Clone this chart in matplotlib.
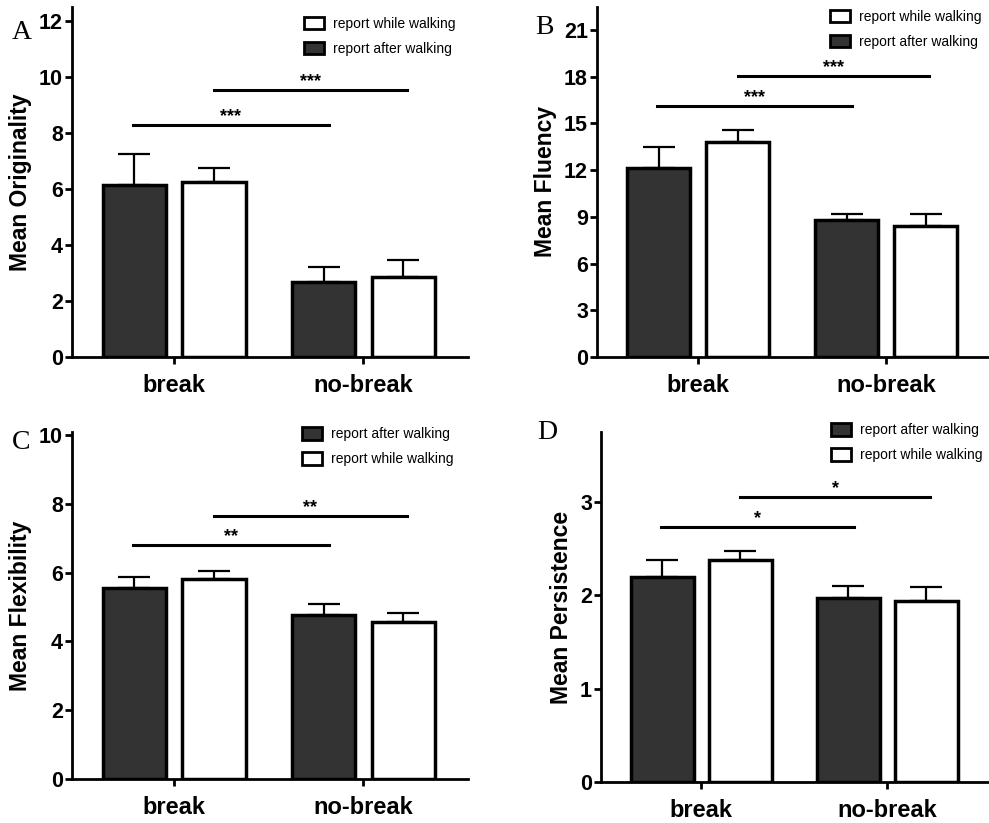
import matplotlib.pyplot as plt
from matplotlib.patches import Patch
import numpy as np

# === DATA ===
groups = ["break", "no-break"]

orig_after = [6.13, 2.67]
orig_after_err = [1.11, 0.54]
orig_while = [6.23, 2.87]
orig_while_err = [0.52, 0.58]

flu_after = [12.14, 8.78]
flu_after_err = [1.35, 0.41]
flu_while = [13.81, 8.44]
flu_while_err = [0.79, 0.75]

flex_after = [5.56, 4.78]
flex_after_err = [0.31, 0.32]
flex_while = [5.82, 4.57]
flex_while_err = [0.23, 0.26]

pers_after = [2.20, 1.97]
pers_after_err = [0.175, 0.13]
pers_while = [2.38, 1.94]
pers_while_err = [0.095, 0.15]

# significance bars: (height, stars)
sig_A = [(8.27, "***"), (9.54, "***")]
sig_B = [(16.1, "***"), (18.03, "***")]
sig_C = [(6.80, "**"), (7.65, "**")]
sig_D = [(2.73, "*"), (3.05, "*")]

DARK = "#333333"
plt.rcParams['font.family'] = ['Liberation Sans', 'DejaVu Sans']

fig = plt.figure(figsize=(9.89, 8.23), dpi=100)


def panel(rect, letter, letter_xy, after, after_err, while_, while_err,
          ylabel, ylim, yticks, sig, while_first, leg_anchor):
    ax = fig.add_axes(rect)
    x = np.arange(len(groups))
    w, off = 0.335, 0.21
    # upper-only error bars
    ax.errorbar(x - off, after, yerr=[np.zeros(2), after_err], fmt="none",
                ecolor="black", elinewidth=1.6, capsize=11.5, capthick=1.6, zorder=1)
    ax.errorbar(x + off, while_, yerr=[np.zeros(2), while_err], fmt="none",
                ecolor="black", elinewidth=1.6, capsize=11.5, capthick=1.6, zorder=1)
    ax.bar(x - off, after, w, color=DARK, edgecolor="black", linewidth=2.5, zorder=2)
    ax.bar(x + off, while_, w, color="white", edgecolor="black", linewidth=2.5, zorder=2)

    # significance lines
    (h1, s1), (h2, s2) = sig
    ax.plot([-0.22, 0.82], [h1, h1], color="black", lw=2.2)
    ax.plot([0.21, 1.23], [h2, h2], color="black", lw=2.2)
    ax.text(0.30, h1, s1, ha="center", va="bottom", fontsize=13, fontweight="bold")
    ax.text(0.72, h2, s2, ha="center", va="bottom", fontsize=13, fontweight="bold")

    ax.set_xlim(-0.54, 1.55)
    ax.set_ylim(*ylim)
    ax.set_yticks(yticks)
    ax.set_xticks(x)
    ax.set_xticklabels(groups, fontsize=17, fontweight="bold")
    ax.tick_params(axis="x", length=5, width=2, pad=7)
    ax.tick_params(axis="y", length=5, width=2, pad=1.5, labelsize=15.5)
    for lab in ax.get_yticklabels():
        lab.set_fontweight("bold")
    ax.set_ylabel(ylabel, fontsize=16.5, fontweight="bold", labelpad=5)
    for s in ["top", "right"]:
        ax.spines[s].set_visible(False)
    for s in ["left", "bottom"]:
        ax.spines[s].set_linewidth(2)

    h_after = Patch(facecolor=DARK, edgecolor="black", linewidth=2, label="report after walking")
    h_while = Patch(facecolor="white", edgecolor="black", linewidth=2, label="report while walking")
    handles = [h_while, h_after] if while_first else [h_after, h_while]
    ax.legend(handles=handles, loc="upper left", bbox_to_anchor=leg_anchor,
              frameon=False, fontsize=10, handlelength=1.4, handleheight=1.0,
              labelspacing=0.8, handletextpad=0.65)

    fig.text(letter_xy[0], letter_xy[1], letter, family="Liberation Serif",
             fontsize=20, ha="left", va="center")
    return ax


panel([0.0728, 0.566, 0.40, 0.426], "A", (0.012, 0.961),
      orig_after, orig_after_err, orig_while, orig_while_err,
      "Mean Originality", (0, 12.5), range(0, 13, 2), sig_A, True, (0.555, 1.007))

panel([0.6036, 0.566, 0.397, 0.426], "B", (0.541, 0.966),
      flu_after, flu_after_err, flu_while, flu_while_err,
      "Mean Fluency", (0, 22.5), range(0, 22, 3), sig_B, True, (0.562, 1.027))

panel([0.0728, 0.0535, 0.40, 0.422], "C", (0.012, 0.462),
      flex_after, flex_after_err, flex_while, flex_while_err,
      "Mean Flexibility", (0, 10.1), range(0, 11, 2), sig_C, False, (0.55, 1.049))

panel([0.6077, 0.050, 0.393, 0.425], "D", (0.543, 0.474),
      pers_after, pers_after_err, pers_while, pers_while_err,
      "Mean Persistence", (0, 3.75), range(0, 4), sig_D, False, (0.56, 1.061))

fig.savefig("out.png", dpi=100)
